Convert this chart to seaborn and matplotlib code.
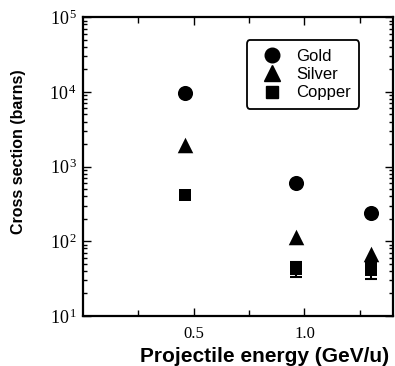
import numpy as np
import pandas as pd
import matplotlib
matplotlib.use("Agg")
import matplotlib.pyplot as plt
import seaborn as sns
from matplotlib.ticker import FixedLocator, FuncFormatter, LogLocator, NullFormatter
from matplotlib.lines import Line2D

# Data
energy = [0.46, 0.96, 1.30]
gold = [9800, 600, 236]
silver = [1940, 115, 68]
copper = [415, 43, 41]
copper_err = [0, 10, 10]
metals = ["Gold", "Silver", "Copper"]

sns.set_style("ticks")
plt.rcParams["font.family"] = ["Liberation Sans", "DejaVu Sans"]
plt.rcParams["text.color"] = "black"
plt.rcParams["axes.labelcolor"] = "black"
plt.rcParams["xtick.color"] = "black"
plt.rcParams["ytick.color"] = "black"
plt.rcParams["mathtext.fontset"] = "custom"
plt.rcParams["mathtext.rm"] = "Liberation Serif"
plt.rcParams["mathtext.it"] = "Liberation Serif"
plt.rcParams["mathtext.bf"] = "Liberation Serif"

df = pd.DataFrame({
    "energy": energy * 3,
    "xs": gold + silver + copper,
    "metal": [m for m in metals for _ in energy],
})

fig = plt.figure(figsize=(3.95, 3.66), dpi=100)
ax = fig.add_axes([0.21, 0.137, 0.785, 0.816])

marker_map = {"Gold": "o", "Silver": "^", "Copper": "s"}
size_map = {"Gold": 118, "Silver": 125, "Copper": 78}

ax.errorbar(energy, copper, yerr=copper_err, fmt="none", ecolor="black",
            elinewidth=1.5, capsize=4, capthick=1.5, zorder=2)
for m in metals:
    sns.scatterplot(data=df[df["metal"] == m], x="energy", y="xs", ax=ax,
                    marker=marker_map[m], s=size_map[m], color="black",
                    edgecolor="black", linewidth=0, zorder=3, legend=False)

ax.set_yscale("log")
ax.set_xlim(0, 1.4)
ax.set_ylim(10, 1e5)

ax.xaxis.set_major_locator(FixedLocator([0.5, 1.0]))
ax.xaxis.set_minor_locator(FixedLocator([0.25, 0.75, 1.25]))
ax.xaxis.set_major_formatter(FuncFormatter(lambda v, p: f"{v:.1f}"))
ax.yaxis.set_major_locator(FixedLocator([10, 100, 1000, 10000, 100000]))
ax.yaxis.set_minor_locator(LogLocator(base=10, subs=np.arange(2, 10)))
ax.yaxis.set_minor_formatter(NullFormatter())
ax.yaxis.set_major_formatter(FuncFormatter(
    lambda v, p: r"$10^{\,%d}$" % int(round(np.log10(v)))))

ax.tick_params(which="both", direction="in", top=True, right=True,
               width=1.0, colors="black")
ax.tick_params(which="major", length=6)
ax.tick_params(which="minor", length=3)
ax.tick_params(axis="x", which="minor", length=4)
ax.tick_params(axis="y", which="major", labelsize=13, pad=4)
ax.tick_params(axis="x", which="major", labelsize=12, pad=7)
for lab in ax.get_xticklabels():
    lab.set_family("Liberation Serif")
for sp in ax.spines.values():
    sp.set_linewidth(1.6)
    sp.set_color("black")

ax.set_xlabel("Projectile energy (GeV/u)", fontsize=15, fontweight="bold",
              labelpad=4)
ax.xaxis.set_label_coords(0.585, -0.105)
ax.set_ylabel("Cross section (barns)", fontsize=11.5, fontweight="bold")
ax.yaxis.set_label_coords(-0.185, 0.55)

handles = [Line2D([], [], linestyle="none", marker=marker_map[m], color="black",
                  markersize={"Gold": 10.5, "Silver": 11, "Copper": 8.5}[m],
                  label=m) for m in metals]
leg = ax.legend(handles=handles, loc="upper left",
                bbox_to_anchor=(0.529, 0.922), fontsize=12, frameon=True,
                fancybox=True, edgecolor="black", framealpha=1,
                handlelength=2.0, handletextpad=0.45, borderpad=0.5,
                labelspacing=0.2, borderaxespad=0)
leg.get_frame().set_linewidth(1.3)

fig.savefig("out.png", dpi=100)
